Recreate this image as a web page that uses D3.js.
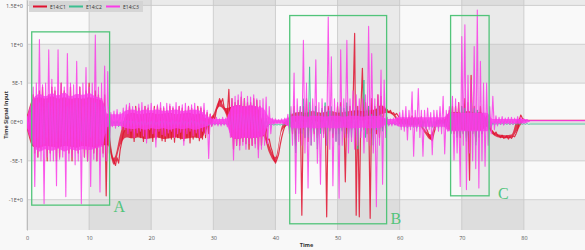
<!DOCTYPE html>
<html>
<head>
<meta charset="utf-8">
<script src="https://cdn.jsdelivr.net/npm/d3@7"></script>
<style>
body { margin: 0; background: #f8f8f8; }
text { font-family: "Open Sans", "DejaVu Sans", sans-serif; }
</style>
</head>
<body>
<div id="chart"></div>
<script>
// sample step of the traces (time units), traces end at 81 and stay flat to 90
var dt = 0.25;
var tEnd = 90;

var seriesNames = ["E14:C1", "E14:C2", "E14:C3"];
var seriesColors = ["#e0122f", "#3cbf91", "#fa3ce8"];

var c1 = [
  .1,-.12,.15,-.2, .35,-.4,.3,-.45, .4,-.35,.45,-.3, .3,-.5,.35,-.4, .45,-.3,.4,-.5,
  .35,-.45,.5,-.35, .4,-.3,.35,-.4, .45,-.5,.3,-.35, .35,-.4,.45,-.3, .3,-.45,.4,-.5,
  .5,-.35,.3,-.4, .4,-.5,.35,-.3, .3,-.4,.35,-.95, .1,-.23,-.38,-.47, -.5,-.56,-.46,-.53,
  -.36,-.26,-.15,-.1, .1,-.15,.2,-.2, .15,-.25,.2,-.18, .18,-.2,.15,-.25, .2,-.22,.18,-.2,
  .15,-.25,.2,-.22, .2,-.2,.18,-.24, .18,-.25,.15,-.2, .2,-.22,.18,-.26, .15,-.2,.2,-.22,
  .18,-.24,.15,-.2, .2,-.27,.18,-.22, .15,-.2,.2,-.24, .18,-.22,.15,-.2, .12,-.15,.1,-.05,
  .08,.04,.16,.2, .3,.25,.3,.18, .15,.1,.42,-.1, .3,-.35,.25,-.3, .28,-.3,.32,-.25,
  .3,-.28,.25,-.35, .25,-.3,.3,-.28, .28,-.35,.2,-.3, .1,-.2,-.05,-.23, -.22,-.32,-.38,-.47,
  -.53,-.48,-.42,-.3, -.2,-.12,-.06,-.02, .05,-.05,.1,-.15, .2,-.3,.1,-.1, .15,-1.2,.2,-.2,
  .3,-.25,.15,-.1, .1,-.15,.2,-.2, .12,-.1,.15,-.15, .2,-1.22,.2,-.1, .15,-.2,.1,-.15,
  .2,-.15,.25,-.1, .15,-.77,.2,-.15, .2,-.1,.25,1.14, -1.2,.2,-1.22,.15, .69,-.1,.25,-.15,
  .2,-1.24,.3,-.1, .2,-.15,.35,-.2, .33,-.1,.2,.15, .16,.12,.15,.11, .12,.09,.11,.08,
  .05,-.02,.06,-.03, .05,-.04,.06,-.05, .08,-.05,.06,-.04, .05,-.06,.07,-.05, .04,-.08,-.12,-.18,
  -.21,-.24,-.15,-.08, .02,-.03,.04,-.02, .05,-.04,.06,-.05, .15,-.1,.2,-.15, .2,-.15,.25,-.2,
  .2,-.15,.3,-.2, .25,-.75,.6,-.15, .2,-.25,.15,-.1, .2,-.15,.1,-.1, .08,-.05,.05,-.1,
  -.12,-.16,-.13,-.17, -.18,-.2,-.17,-.21, -.2,-.18,-.22,-.19, -.21,-.18,-.19,-.15, -.1,.02,.09,.05,
  .03,.02,.02,.02, .02
];

var c2 = [
  .02,-.04,.03,-.05, .2,-.25,.3,-.2, .25,-.3,.2,-.28, .3,-.2,.25,-.3, .2,-.28,.3,-.25,
  .25,-.2,.28,-.3, .3,-.25,.2,-.22, .22,-.3,.25,-.2, .28,-.22,.3,-.25, .2,-.3,.22,-.28,
  .3,-.2,.25,-.3, .25,-.28,.2,-.22, .22,-.25,.2,-.15, .05,-.06,.02,-.05, .01,-.05,.02,-.06,
  0,-.05,.01,-.04, .02,-.06,.01,-.05, .01,-.05,.02,-.04, 0,-.06,.01,-.05, .02,-.04,0,-.05,
  .01,-.06,.02,-.04, 0,-.05,.01,-.06, .02,-.04,.01,-.05, 0,-.06,.02,-.04, .01,-.05,0,-.05,
  .02,-.04,.01,-.06, 0,-.05,.02,-.04, .01,-.06,0,-.05, .02,-.04,.01,-.05, 0,-.05,-.01,-.04,
  -.02,-.03,-.02,-.03, -.02,-.03,-.02,-.03, -.02,-.03,-.01,-.04, .08,-.1,.1,-.12, .1,-.08,.12,-.1,
  .09,-.12,.1,-.08, .12,-.1,.08,-.11, .1,-.12,.09,-.1, .08,-.09,.05,-.06, -.03,-.04,-.03,-.04,
  -.03,-.04,-.03,-.04, -.03,-.04,-.03,-.04, .05,-.1,.08,-.12, .15,-.4,.12,-.15, .2,-.15,.3,-.2,
  .15,-.2,.71,-.3, .15,-.12,.2,-.35, .12,-.15,.18,-.1, .25,-.3,.15,-.12, .2,-.15,.12,-.25,
  .15,-.3,.2,-.12, .18,-.15,.25,-.2, .12,-.2,.15,-.1, .2,-.35,.15,-.12, .1,.54,-.2,.15,
  .2,-.15,.1,-.3, .15,-.1,.2,-.15, .1,-.12,.05,-.08, -.01,-.04,-.02,-.03, -.01,-.04,-.02,-.03,
  .02,-.06,.03,-.07, .04,-.08,.03,-.06, .05,-.07,.04,-.08, .03,-.06,.05,-.07, .04,-.08,.03,-.06,
  .05,-.07,.02,-.06, .03,-.08,.04,-.07, .05,-.06,.03,-.08, .1,-.15,.12,-.1, .15,-.2,.1,-.18,
  .2,-.15,.18,-.25, .12,-.2,.25,-.15, .18,-.3,.15,-.2, .1,-.15,.12,-.1, .05,-.08,.03,-.06,
  -.01,-.04,-.02,-.03, -.02,-.03,-.02,-.03, -.02,-.03,-.02,-.03, -.02,-.03,-.02,-.03, -.02,-.03,-.02,-.03,
  -.02,-.03,-.02,-.03, -.026
];

var c3 = [
  .08,-.1,.12,-.3, .45,-.83,.5,-.45, 1.06,-.5,.48,-1.05, .5,-.45,.93,-.5, .55,-.5,.45,-.82,
  .93,-.48,.5,-.45, .45,-.96,.88,-.5, .5,-.45,.48,-.55, .78,-.5,.45,-1.05, .5,-.45,.7,-.5,
  .45,-.83,.5,-.48, 1.12,-.5,.45,-.9, .5,-.45,.72,-.5, .65,-.4,.12,-.06, .14,-.08,.16,-.05,
  .12,-.09,.18,-.1, .22,-.15,.24,-.12, .2,-.2,.18,-.14, .23,-.12,.25,-.18, .2,-.27,.22,-.1,
  .24,-.15,.18,-.32, .22,-.12,.25,-.16, .2,-.18,.24,-.14, .23,-.12,.2,-.2, .25,-.15,.2,-.13,
  .22,-.3,.24,-.15, .2,-.12,.22,-.18, .24,-.14,.18,-.2, .2,-.12,.24,-.16, .15,-.47,.1,-.06,
  .05,-.04,.06,-.05, .04,-.05,.06,-.04, .05,-.06,.1,-.2, .3,-.49,.33,-.3, .35,-.36,.39,-.3,
  .3,-.35,.33,-.28, .32,-.3,.35,-.33, .3,-.46,.28,-.35, .3,-.3,.32,-.28, .2,-.15,.05,-.03,
  .04,-.02,.03,-.02, .04,-.03,.05,-.04, .1,-.15,.2,-.3, .63,-.92,.3,-.25, .2,-.3,1.05,-.4,
  .5,-.85,.25,-.3, .3,-.25,.8,-.53, .25,-.8,.3,-.2, .2,-.3,1.35,-.35, .84,-.82,.3,-.25,
  .25,-.98,.93,-.3, .3,-.2,1.05,-.4, .3,-.25,.4,-.35, .35,-.3,.3,-.2, .3,-.4,.35,-.25,
  1.23,-.3,.88,-.4, .3,-1.09,.35,-.3, .67,-.8,.54,-.2, .06,-.05,.04,-.05, .05,-.04,.06,-.05,
  .12,-.1,.15,-.12, .2,-.23,.15,-.1, .39,-.44,.15,-.12, .43,-.2,.15,-.44, .15,-.12,.18,-.1,
  .12,-.42,.15,-.1, .15,-.12,.2,-.15, .33,-.41,.15,-.12, .2,-.15,.33,-.49, .3,-.4,.25,-.83,
  1.1,-.3,1.25,-.87, .6,-.4,.54,-.5, .97,-.6,1.44,-.85, .78,-.5,.5,-.57, .5,-.3,.2,-.15,
  .33,-.1,.08,-.05, .06,-.03,.07,-.04, .05,-.02,.06,-.03, .06,-.03,.05,-.02, .07,-.02,.06,-.01,
  .04,0,.03,.01, .017
];

// solid core of the dense traces, one top/bottom pair per time unit (t = 0..81)
var c1CoreTop = [
  .08,.3,.32,.3,.33,.3,.32,.3,.31,.3, .32,.3,.28,.02,-.46,-.16,.1,.12,.1,.11,
  .12,.1,.11,.12,.1,.11,.12,.1,.11,.04, .1,.28,.18,.2,.22,.2,.21,.2,-.02,-.3,
  -.45,-.06,.04,.12,.13,.12,.14,.12,.13,.14, .12,.13,.14,.15,.14,.15,.16,.22,.15,.11,
  .04,.04,.05,.04,-.09,-.16,.03,.03,.12,.13, .12,.14,.12,.13,.04,-.12,-.16,-.17,-.16,.04,
  .03,.02
];
var c1CoreBot = [
  -.1,-.32,-.33,-.31,-.32,-.33,-.31,-.32,-.33,-.31, -.32,-.33,-.3,-.3,-.55,-.3,-.2,-.21,-.2,-.22,
  -.21,-.2,-.22,-.21,-.2,-.22,-.21,-.2,-.21,-.08, .04,.2,.1,-.2,-.22,-.2,-.21,-.2,-.18,-.4,
  -.52,-.12,-.04,0,.01,0,.02,0,.01,.02, 0,.02,.03,.03,.02,.04,.04,.1,.12,.08,
  -.03,-.03,-.04,-.03,-.14,-.23,-.02,-.02,-.1,-.11, -.1,-.12,-.1,-.11,-.06,-.16,-.2,-.21,-.2,-.1,
  .01,.02
];
var c3CoreTop = [
  .06,.3,.36,.33,.37,.34,.38,.33,.36,.35, .37,.33,.3,.1,.1,.1,.15,.16,.14,.16,
  .15,.16,.14,.15,.16,.14,.15,.16,.14,.08, .04,.04,.04,.2,.22,.2,.22,.2,.18,.06,
  .03,.03,.05,.08,.08,.07,.08,.08,.07,.08, .08,.07,.08,.08,.07,.08,.08,.07,.04,.04,
  .06,.06,.06,.06,.06,.06,.06,.06,.12,.12, .12,.12,.12,.12,.12,.04,.04,.04,.04,.04,
  .04,.02
];
var c3CoreBot = [
  -.08,-.3,-.38,-.35,-.37,-.34,-.38,-.35,-.37,-.35, -.36,-.34,-.32,-.06,-.05,-.05,-.08,-.09,-.08,-.1,
  -.08,-.09,-.08,-.1,-.08,-.09,-.08,-.1,-.08,-.05, -.03,-.03,-.03,-.2,-.22,-.2,-.21,-.2,-.18,-.03,
  -.02,-.02,-.05,-.08,-.08,-.07,-.08,-.08,-.07,-.08, -.08,-.07,-.08,-.08,-.07,-.08,-.08,-.07,-.03,-.03,
  -.06,-.06,-.06,-.06,-.06,-.06,-.06,-.06,-.12,-.12, -.12,-.12,-.12,-.12,-.12,-.02,-.02,-.02,-.02,-.02,
  -.02,.01
];

var xTicks = [0, 10, 20, 30, 40, 50, 60, 70, 80];
var yTicks = [-1, -0.5, 0, 0.5, 1, 1.5];
var yTickLabels = ["-1E+0", "-5E-1", "0E+0", "5E-1", "1E+0", "1.5E+0"];

// highlighted regions (time from/to, value low/high)
var boxLabels = ["A", "B", "C"];
var boxStart = [0.76, 42.3, 68.2];
var boxEnd = [13.3, 57.9, 74.4];
var boxLow = [-1.07, -1.31, -0.95];
var boxHigh = [1.16, 1.37, 1.37];
// label offset from the box's lower right corner, px
var labelDx = [4, 4, 9];
var labelDy = [7, 0, 3];

var svgWidth = 585;
var svgHeight = 250;
var margin = { top: 0, right: -1, bottom: 20, left: 27 };
var width = svgWidth - margin.left - margin.right;
var height = svgHeight - margin.top - margin.bottom;

var svg = d3.select("#chart")
  .append("svg")
  .attr("width", svgWidth)
  .attr("height", svgHeight);

var chartGroup = svg.append("g")
  .attr("transform", `translate(${margin.left}, ${margin.top})`);

var x = d3.scaleLinear().domain([0, tEnd]).range([0, width]);
var y = d3.scaleLinear().domain([-1.39, 1.57]).range([height, 0]);

svg.append("clipPath").attr("id", "plotclip")
  .append("rect").attr("width", width).attr("height", height);

// split areas: rows and columns
var rowEdges = [y.domain()[0]].concat(yTicks, [y.domain()[1]]);
chartGroup.append("rect")
  .attr("width", width).attr("height", height)
  .attr("fill", "#f9f9f9");
chartGroup.selectAll(".rowband")
  .data(d3.range(rowEdges.length - 1).filter(i => i % 2 == 0))
  .enter()
  .append("rect")
  .attr("x", 0)
  .attr("width", width)
  .attr("y", i => y(rowEdges[i + 1]))
  .attr("height", i => y(rowEdges[i]) - y(rowEdges[i + 1]))
  .attr("fill", "rgba(0,0,0,0.055)");

var colEdges = xTicks.concat([tEnd]);
chartGroup.selectAll(".colband")
  .data(d3.range(colEdges.length - 1).filter(i => i % 2 == 1))
  .enter()
  .append("rect")
  .attr("y", 0)
  .attr("height", height)
  .attr("x", i => x(colEdges[i]))
  .attr("width", i => x(colEdges[i + 1]) - x(colEdges[i]))
  .attr("fill", "rgba(0,0,0,0.06)");

// grid lines
chartGroup.selectAll(".vgrid")
  .data(xTicks.concat([tEnd]))
  .enter()
  .append("line")
  .attr("x1", d => x(d)).attr("x2", d => x(d))
  .attr("y1", 0).attr("y2", height)
  .attr("stroke", "#c6c6c6")
  .attr("stroke-width", 0.8);

chartGroup.selectAll(".hgrid")
  .data(yTicks)
  .enter()
  .append("line")
  .attr("x1", 0).attr("x2", width)
  .attr("y1", d => y(d)).attr("y2", d => y(d))
  .attr("stroke", "#c8c8c8")
  .attr("stroke-width", 0.8);

// axes
var bottomAxis = d3.axisBottom(x).tickValues(xTicks).tickSize(0).tickPadding(6);
var leftAxis = d3.axisLeft(y).tickValues(yTicks).tickSize(0).tickPadding(4)
  .tickFormat((d, i) => yTickLabels[i]);

var xAxisG = chartGroup.append("g")
  .attr("transform", `translate(0, ${height})`)
  .call(bottomAxis);
var yAxisG = chartGroup.append("g").call(leftAxis);

[xAxisG, yAxisG].forEach(function(g) {
  g.select(".domain").attr("stroke", "#bdbdbd");
  g.selectAll("text").attr("fill", "#555").attr("font-size", "5.5px")
    .attr("font-family", "\"Open Sans\", \"DejaVu Sans\", sans-serif");
});
xAxisG.select(".domain").remove();

// traces
var plotG = chartGroup.append("g").attr("clip-path", "url(#plotclip)");
var line = d3.line()
  .x(d => x(d[0]))
  .y(d => y(d[1]));
var core = d3.area()
  .x((d, i) => x(i))
  .y0(d => y(d[1]))
  .y1(d => y(d[0]))
  .curve(d3.curveMonotoneX);

var coreTops = [c1CoreTop, null, c3CoreTop];
var coreBots = [c1CoreBot, null, c3CoreBot];
var strokeWidths = [1.2, 1, 1.1];
[c1, c2, c3].forEach(function(values, k) {
  if (coreTops[k]) {
    plotG.append("path")
      .datum(d3.zip(coreTops[k], coreBots[k]))
      .attr("d", core)
      .attr("fill", seriesColors[k])
      .attr("fill-opacity", 0.8);
  }
  var pts = values.map((v, i) => [i * dt, v]);
  pts.push([tEnd, values[values.length - 1]]);
  plotG.append("path")
    .datum(pts)
    .attr("d", line)
    .attr("fill", "none")
    .attr("stroke", seriesColors[k])
    .attr("stroke-width", strokeWidths[k])
    .attr("stroke-opacity", 0.85)
    .attr("stroke-linejoin", "round");
});

// annotation boxes
chartGroup.selectAll(".box")
  .data(boxLabels)
  .enter()
  .append("rect")
  .attr("x", (d, i) => x(boxStart[i]))
  .attr("y", (d, i) => y(boxHigh[i]))
  .attr("width", (d, i) => x(boxEnd[i]) - x(boxStart[i]))
  .attr("height", (d, i) => y(boxLow[i]) - y(boxHigh[i]))
  .attr("fill", "none")
  .attr("stroke", "#52c47a")
  .attr("stroke-width", 1.3);

chartGroup.selectAll(".boxlabel")
  .data(boxLabels)
  .enter()
  .append("text")
  .attr("x", (d, i) => x(boxEnd[i]) + labelDx[i])
  .attr("y", (d, i) => y(boxLow[i]) + labelDy[i])
  .attr("fill", "#52c47a")
  .attr("font-size", "16px")
  .style("font-family", "\"Liberation Serif\", \"DejaVu Serif\", serif")
  .text(d => d);

// axis titles
chartGroup.append("text")
  .attr("transform", "rotate(-90)")
  .attr("x", -height / 2)
  .attr("y", -19)
  .attr("text-anchor", "middle")
  .attr("font-size", "5.5px")
  .attr("font-weight", "bold")
  .attr("fill", "#333")
  .text("Time Signal Input");

chartGroup.append("text")
  .attr("x", width / 2)
  .attr("y", height + 17)
  .attr("text-anchor", "middle")
  .attr("font-size", "5.5px")
  .attr("font-weight", "bold")
  .attr("fill", "#333")
  .text("Time");

// legend
var legend = svg.append("g").attr("transform", "translate(29, 1)");
legend.append("rect")
  .attr("width", 114).attr("height", 11)
  .attr("fill", "#d3d3d3").attr("fill-opacity", 0.9);
var legendX = [4, 40, 77];
seriesNames.forEach(function(name, k) {
  legend.append("line")
    .attr("x1", legendX[k]).attr("x2", legendX[k] + 14)
    .attr("y1", 5.5).attr("y2", 5.5)
    .attr("stroke", seriesColors[k]).attr("stroke-width", 2);
  legend.append("text")
    .attr("x", legendX[k] + 17).attr("y", 7.5)
    .attr("font-size", "5px").attr("fill", "#333")
    .text(name);
});
</script>
</body>
</html>
